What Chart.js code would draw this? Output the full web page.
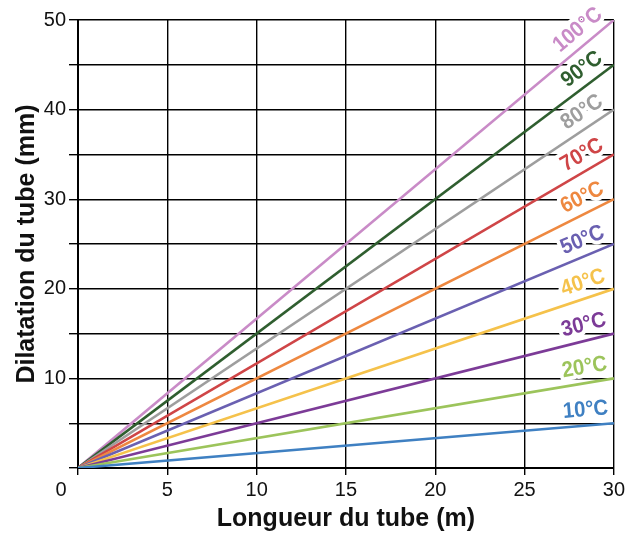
<!DOCTYPE html>
<html><head><meta charset="utf-8">
<script src="https://cdn.jsdelivr.net/npm/chart.js@4/dist/chart.umd.min.js"></script>
<style>html,body{margin:0;padding:0;background:#fff}#wrap{width:628px;height:535px}</style>
</head><body><div id="wrap"><canvas id="c" width="628" height="535"></canvas></div>
<script>
// Data
const lengths = [0, 30];
const temps = ['10°C','20°C','30°C','40°C','50°C','60°C','70°C','80°C','90°C','100°C'];
const dil10 = [0, 5];
const dil20 = [0, 10];
const dil30 = [0, 15];
const dil40 = [0, 20];
const dil50 = [0, 25];
const dil60 = [0, 30];
const dil70 = [0, 35];
const dil80 = [0, 40];
const dil90 = [0, 45];
const dil100 = [0, 50];
const xTicks = [0, 5, 10, 15, 20, 25, 30];
const yTickLabels = [10, 20, 30, 40, 50];

const series = [dil10, dil20, dil30, dil40, dil50, dil60, dil70, dil80, dil90, dil100];
const colors = ['#3f80c2','#9cc45b','#7c3b97','#f5c24b','#6a60b1','#ee8840','#cf4547','#9e9e9e','#2f5e2f','#c98bc7'];

const datasets = series.map((s, i) => ({
  label: temps[i],
  data: s.map((v, j) => ({x: lengths[j], y: v})),
  borderColor: colors[i],
  backgroundColor: colors[i],
  borderWidth: 2.6,
  pointRadius: 0,
  fill: false,
  tension: 0
}));

const labelPlugin = {
  id: 'lineLabels',
  beforeDatasetsDraw(chart) {
    const ctx = chart.ctx;
    const xs = chart.scales.x, ys = chart.scales.y;
    ctx.save();
    ctx.font = 'bold 22px "Liberation Sans", Arial, sans-serif';
    ctx.textAlign = 'right';
    ctx.textBaseline = 'middle';
    chart.data.datasets.forEach((ds, i) => {
      const p0 = ds.data[0], p1 = ds.data[ds.data.length - 1];
      const x0 = xs.getPixelForValue(p0.x), y0 = ys.getPixelForValue(p0.y);
      const x1 = xs.getPixelForValue(p1.x), y1 = ys.getPixelForValue(p1.y);
      const a = Math.atan2(y0 - y1, x1 - x0);
      const t = 29.75;
      const vy = p0.y + (p1.y - p0.y) * (t - p0.x) / (p1.x - p0.x);
      const px = xs.getPixelForValue(t), py = ys.getPixelForValue(vy);
      const d = 15.5;
      const cx = px - Math.sin(a) * d, cy = py - Math.cos(a) * d;
      ctx.save();
      ctx.translate(cx, cy);
      ctx.rotate(-a);
      ctx.scale(0.92, 1);
      ctx.lineWidth = 8;
      ctx.strokeStyle = '#fff';
      ctx.lineJoin = 'round';
      ctx.strokeText(ds.label, 0, 0);
      ctx.fillStyle = ds.borderColor;
      ctx.fillText(ds.label, 0, 0);
      ctx.restore();
    });
    ctx.restore();
  },
  afterDraw(chart) {
    const ctx = chart.ctx;
    const xs = chart.scales.x;
    ctx.save();
    ctx.font = '20px "Liberation Sans", Arial, sans-serif';
    ctx.fillStyle = '#111';
    ctx.textAlign = 'center';
    ctx.textBaseline = 'middle';
    ctx.fillText(String(xTicks[0]), xs.getPixelForValue(0) - 17, 490);
    ctx.restore();
  }
};

new Chart(document.getElementById('c'), {
  type: 'line',
  data: { datasets },
  options: {
    responsive: false,
    animation: false,
    devicePixelRatio: 1,
    layout: { padding: { top: 20, right: 12, left: 12, bottom: 1 } },
    plugins: { legend: { display: false }, tooltip: { enabled: false } },
    scales: {
      x: {
        type: 'linear', min: 0, max: 30,
        afterFit(s) { s.height = 66; },
        afterBuildTicks(s) { s.ticks = xTicks.map(v => ({value: v})); },
        ticks: {
          color: '#111', padding: 3,
          font: { family: '"Liberation Sans", Arial, sans-serif', size: 20 },
          maxRotation: 0,
          callback: v => (v === 0 ? '' : String(v))
        },
        grid: { color: '#000', lineWidth: 1.4, tickLength: 7 },
        border: { color: '#000', width: 2 },
        title: {
          display: true, text: 'Longueur du tube (m)', color: '#111',
          font: { family: '"Liberation Sans", Arial, sans-serif', size: 25, weight: 'bold' },
          padding: { top: 0, bottom: 0 }
        }
      },
      y: {
        type: 'linear', min: 0, max: 50,
        afterFit(s) { s.width = 66; },
        ticks: {
          stepSize: 5, color: '#111', padding: 3,
          font: { family: '"Liberation Sans", Arial, sans-serif', size: 20 },
          callback: v => (yTickLabels.includes(v) ? String(v) : '')
        },
        grid: { color: '#000', lineWidth: 1.4, tickLength: 9 },
        border: { color: '#000', width: 2 },
        title: {
          display: true, text: 'Dilatation du tube (mm)', color: '#111',
          font: { family: '"Liberation Sans", Arial, sans-serif', size: 25, weight: 'bold' },
          padding: { top: 0, bottom: 0 }
        }
      }
    }
  },
  plugins: [labelPlugin]
});
</script>
</body></html>
